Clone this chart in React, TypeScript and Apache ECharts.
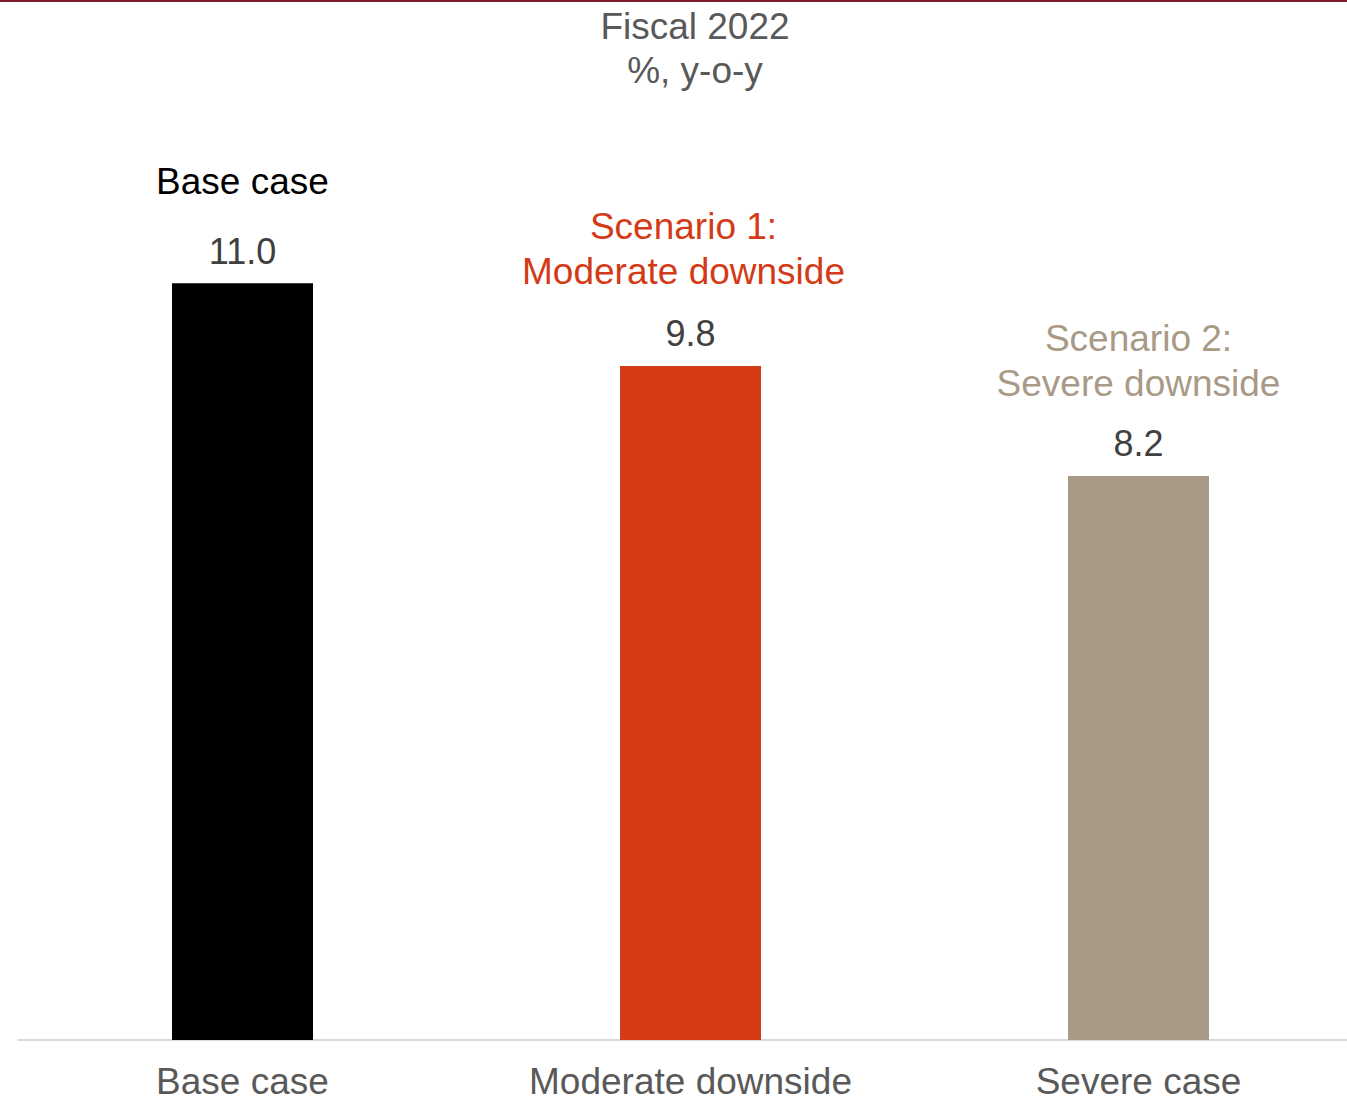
import React, { useEffect, useRef } from "react";
import * as echarts from "echarts";

const categories = ["Base case", "Moderate downside", "Severe case"];
const values = [11.0, 9.8, 8.2];
const barColors = ["#000000", "#d53a17", "#a89a86"];
const annotations = [["Base case"], ["Scenario 1:", "Moderate downside"], ["Scenario 2:", "Severe downside"]];
const annotationColors = ["#000000", "#d53a17", "#a89a86"];
const titleLines = ["Fiscal 2022", "%, y-o-y"];

const FONT = "'Liberation Sans', Arial, sans-serif";

export default function App() {
  const ref = useRef<HTMLDivElement>(null);
  useEffect(() => {
    if (!ref.current) return;
    const chart = echarts.init(ref.current, null, { renderer: "svg" });
    const gaps = [27.5, 19.5, 17.5];
    const rich: any = {
      v: { fontSize: 36, lineHeight: 40, color: "#404040", fontFamily: FONT },
    };
    annotations.forEach((_, i) => {
      rich["a" + i] = {
        fontSize: 37,
        lineHeight: 45,
        color: annotationColors[i],
        fontFamily: FONT,
        padding: i === 1 ? [0, 14, 0, 0] : 0,
      };
      rich["s" + i] = { fontSize: 1, lineHeight: gaps[i], fontFamily: FONT };
    });
    chart.setOption({
      animation: false,
      textStyle: { fontFamily: FONT },
      grid: { left: 18.5, width: 1344, top: 77, height: 963, containLabel: false },
      graphic: [
        {
          type: "rect",
          shape: { x: 0, y: 0, width: 1347, height: 2 },
          style: { fill: "#7b1c2b" },
        },
        {
          type: "text",
          x: 695,
          y: 4,
          style: {
            text: titleLines.join("\n"),
            fontSize: 37,
            lineHeight: 44,
            fontFamily: FONT,
            fill: "#595959",
            textAlign: "center",
            textVerticalAlign: "top",
          },
        },
      ],
      xAxis: {
        type: "category",
        data: categories,
        axisLine: { show: true, lineStyle: { color: "#d9d9d9", width: 2 } },
        axisTick: { show: false },
        axisLabel: { fontSize: 37, lineHeight: 26, color: "#595959", margin: 28, fontFamily: FONT },
      },
      yAxis: { type: "value", min: 0, max: 14, show: false, splitLine: { show: false } },
      series: [
        {
          type: "bar",
          barWidth: 141,
          data: values.map((v, i) => ({ value: v, itemStyle: { color: barColors[i] } })),
          label: {
            show: true,
            position: "top",
            distance: 12,
            formatter: (p: any) => {
              const i = p.dataIndex;
              const ann = annotations[i].map((t) => `{a${i}|${t}}`).join("\n");
              return `${ann}\n{s${i}| }\n{v|${Number(p.value).toFixed(1)}}`;
            },
            rich,
          },
        },
      ],
    });
    return () => chart.dispose();
  }, []);
  return (
    <div style={{ position: "absolute", left: 0, top: 0, width: 1347, height: 1100, overflow: "hidden", background: "#fff" }}>
      <div ref={ref} style={{ width: 1364, height: 1110 }} />
    </div>
  );
}
